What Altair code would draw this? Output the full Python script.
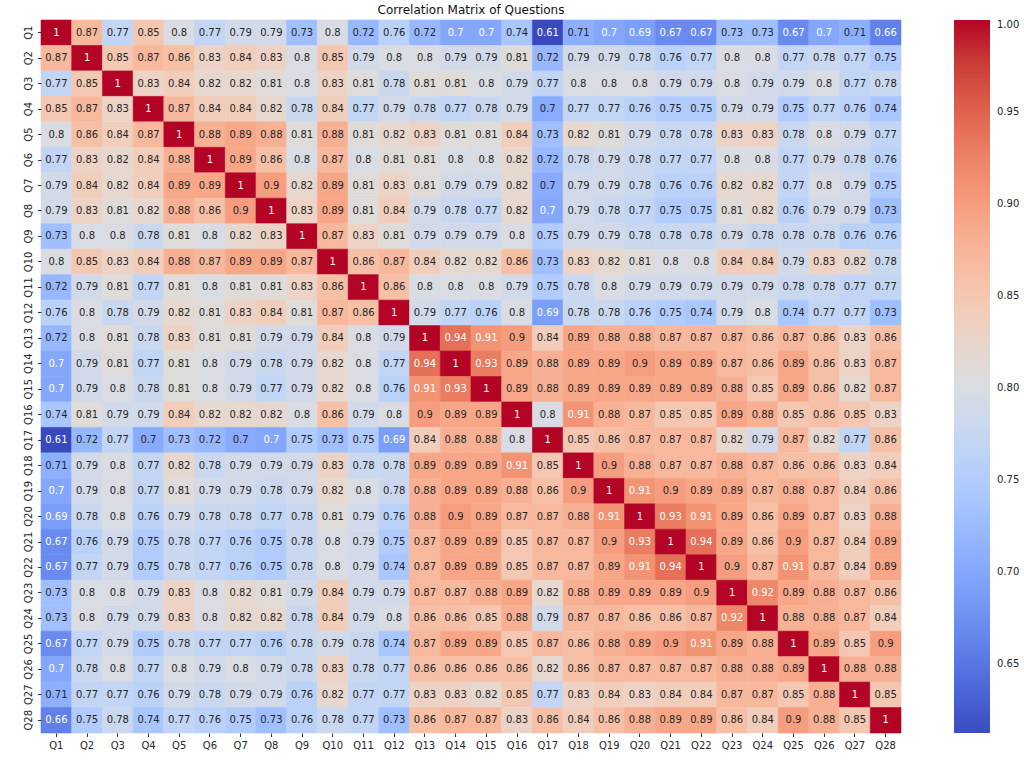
import altair as alt
import numpy as np
import pandas as pd

labels = [f"Q{i}" for i in range(1, 29)]

r01 = [1, .87, .77, .85, .8, .77, .79, .79, .73, .8, .72, .76, .72, .7, .7, .74, .61, .71, .7, .69, .67, .67, .73, .73, .67, .7, .71, .66]
r02 = [.87, 1, .85, .87, .86, .83, .84, .83, .8, .85, .79, .8, .8, .79, .79, .81, .72, .79, .79, .78, .76, .77, .8, .8, .77, .78, .77, .75]
r03 = [.77, .85, 1, .83, .84, .82, .82, .81, .8, .83, .81, .78, .81, .81, .8, .79, .77, .8, .8, .8, .79, .79, .8, .79, .79, .8, .77, .78]
r04 = [.85, .87, .83, 1, .87, .84, .84, .82, .78, .84, .77, .79, .78, .77, .78, .79, .704, .77, .77, .76, .75, .75, .79, .79, .75, .77, .76, .74]
r05 = [.8, .86, .84, .87, 1, .88, .89, .88, .81, .88, .81, .82, .83, .81, .81, .84, .73, .82, .81, .79, .78, .78, .83, .83, .78, .8, .79, .77]
r06 = [.77, .83, .82, .84, .88, 1, .89, .86, .8, .87, .8, .81, .81, .8, .8, .82, .72, .78, .79, .78, .77, .77, .8, .8, .77, .79, .78, .76]
r07 = [.79, .84, .82, .84, .89, .89, 1, .9, .82, .89, .81, .83, .81, .79, .79, .82, .704, .79, .79, .78, .76, .76, .82, .82, .77, .8, .79, .75]
r08 = [.79, .83, .81, .82, .88, .86, .9, 1, .83, .89, .81, .84, .79, .78, .77, .82, .7, .79, .78, .77, .75, .75, .81, .82, .76, .79, .79, .73]
r09 = [.73, .8, .8, .78, .81, .8, .82, .83, 1, .87, .83, .81, .79, .79, .79, .8, .75, .79, .79, .78, .78, .78, .79, .78, .78, .78, .76, .76]
r10 = [.8, .85, .83, .84, .88, .87, .89, .89, .87, 1, .86, .87, .84, .82, .82, .86, .73, .83, .82, .81, .8, .8, .84, .84, .79, .83, .82, .78]
r11 = [.72, .79, .81, .77, .81, .8, .81, .81, .83, .86, 1, .86, .8, .8, .8, .79, .75, .78, .8, .79, .79, .79, .79, .79, .78, .78, .77, .77]
r12 = [.76, .8, .78, .79, .82, .81, .83, .84, .81, .87, .86, 1, .79, .77, .76, .8, .69, .78, .78, .76, .75, .74, .79, .8, .74, .77, .77, .73]
r13 = [.72, .8, .81, .78, .83, .81, .81, .79, .79, .84, .8, .79, 1, .94, .91, .9, .84, .89, .88, .88, .87, .87, .87, .86, .87, .86, .83, .86]
r14 = [.7, .79, .81, .77, .81, .8, .79, .78, .79, .82, .8, .77, .94, 1, .93, .89, .88, .89, .89, .9, .89, .89, .87, .86, .89, .86, .83, .87]
r15 = [.7, .79, .8, .78, .81, .8, .79, .77, .79, .82, .8, .76, .91, .93, 1, .89, .88, .89, .89, .89, .89, .89, .88, .85, .89, .86, .82, .87]
r16 = [.74, .81, .79, .79, .84, .82, .82, .82, .8, .86, .79, .8, .9, .89, .89, 1, .8, .91, .88, .87, .85, .85, .89, .88, .85, .86, .85, .83]
r17 = [.61, .72, .77, .704, .73, .72, .704, .7, .75, .73, .75, .69, .84, .88, .88, .8, 1, .85, .86, .87, .87, .87, .82, .79, .87, .82, .77, .86]
r18 = [.71, .79, .8, .77, .82, .78, .79, .79, .79, .83, .78, .78, .89, .89, .89, .91, .85, 1, .9, .88, .87, .87, .88, .87, .86, .86, .83, .84]
r19 = [.7, .79, .8, .77, .81, .79, .79, .78, .79, .82, .8, .78, .88, .89, .89, .88, .86, .9, 1, .91, .9, .89, .89, .87, .88, .87, .84, .86]
r20 = [.69, .78, .8, .76, .79, .78, .78, .77, .78, .81, .79, .76, .88, .9, .89, .87, .87, .88, .91, 1, .93, .91, .89, .86, .89, .87, .83, .88]
r21 = [.67, .76, .79, .75, .78, .77, .76, .75, .78, .8, .79, .75, .87, .89, .89, .85, .87, .87, .9, .93, 1, .94, .89, .86, .9, .87, .84, .89]
r22 = [.67, .77, .79, .75, .78, .77, .76, .75, .78, .8, .79, .74, .87, .89, .89, .85, .87, .87, .89, .91, .94, 1, .9, .87, .91, .87, .84, .89]
r23 = [.73, .8, .8, .79, .83, .8, .82, .81, .79, .84, .79, .79, .87, .87, .88, .89, .82, .88, .89, .89, .89, .9, 1, .92, .89, .88, .87, .86]
r24 = [.73, .8, .79, .79, .83, .8, .82, .82, .78, .84, .79, .8, .86, .86, .85, .88, .79, .87, .87, .86, .86, .87, .92, 1, .88, .88, .87, .84]
r25 = [.67, .77, .79, .75, .78, .77, .77, .76, .78, .79, .78, .74, .87, .89, .89, .85, .87, .86, .88, .89, .9, .91, .89, .88, 1, .89, .85, .9]
r26 = [.7, .78, .8, .77, .8, .79, .8, .79, .78, .83, .78, .77, .86, .86, .86, .86, .82, .86, .87, .87, .87, .87, .88, .88, .89, 1, .88, .88]
r27 = [.71, .77, .77, .76, .79, .78, .79, .79, .76, .82, .77, .77, .83, .83, .82, .85, .77, .83, .84, .83, .84, .84, .87, .87, .85, .88, 1, .85]
r28 = [.66, .75, .78, .74, .77, .76, .75, .73, .76, .78, .77, .73, .86, .87, .87, .83, .86, .84, .86, .88, .89, .89, .86, .84, .9, .88, .85, 1]

rows = [r01, r02, r03, r04, r05, r06, r07, r08, r09, r10, r11, r12, r13, r14,
        r15, r16, r17, r18, r19, r20, r21, r22, r23, r24, r25, r26, r27, r28]

legend_ticks = [0.65, 0.70, 0.75, 0.80, 0.85, 0.90, 0.95, 1.00]

# coolwarm (Moreland) colour stops
coolwarm = [
    (59, 76, 192), (68, 90, 204), (77, 104, 215), (87, 117, 225), (98, 130, 234),
    (108, 142, 241), (119, 154, 247), (130, 165, 251), (141, 176, 254), (152, 185, 255),
    (163, 194, 255), (174, 201, 253), (184, 208, 249), (194, 213, 244), (204, 217, 238),
    (213, 219, 230), (221, 221, 221), (229, 216, 209), (236, 211, 197), (241, 204, 184),
    (245, 196, 172), (247, 187, 160), (247, 177, 148), (247, 166, 135), (244, 154, 123),
    (241, 141, 111), (236, 127, 99), (229, 112, 88), (222, 96, 77), (213, 80, 66),
    (203, 62, 56), (192, 40, 47), (180, 4, 38)]
crange = ["#%02x%02x%02x" % c for c in coolwarm]
vmin, vmax = 0.6127, 1.0
cdomain = list(np.linspace(vmin, vmax, len(crange)))

recs = []
for i, rl in enumerate(labels):
    for j, cl in enumerate(labels):
        recs.append({"row": rl, "col": cl, "v": rows[i][j]})
df = pd.DataFrame(recs)

FONT = "DejaVu Sans"

x_enc = alt.X("col:O", sort=labels, title=None,
              scale=alt.Scale(paddingInner=0, paddingOuter=0),
              axis=alt.Axis(labelAngle=0, domain=False, tickSize=3.5, tickColor="#333333",
                            labelFont=FONT, labelFontSize=10, labelColor="#262626",
                            labelPadding=4))
y_enc = alt.Y("row:O", sort=labels, title=None,
              scale=alt.Scale(paddingInner=0, paddingOuter=0),
              axis=alt.Axis(labelAngle=270, domain=False, tickSize=3.5, tickColor="#333333",
                            labelFont=FONT, labelFontSize=10, labelColor="#262626",
                            labelPadding=4, labelAlign="center", labelBaseline="bottom"))

cscale = alt.Scale(domain=cdomain, range=crange, interpolate="rgb")

base = alt.Chart(df)

rects = base.mark_rect(strokeWidth=0.6, stroke=alt.expr("scale('color', datum.v)")).encode(
    x=x_enc,
    y=y_enc,
    color=alt.Color("v:Q", title=None, scale=cscale,
                    legend=alt.Legend(orient="none", legendX=913, legendY=0,
                                      direction="vertical", gradientLength=713,
                                      gradientThickness=36, gradientStrokeWidth=0,
                                      values=legend_ticks, format=".2f",
                                      labelFont=FONT, labelFontSize=10,
                                      labelColor="#262626", labelOverlap=False,
                                      labelOffset=7)),
)

texts = base.mark_text(font=FONT, fontSize=10).encode(
    x=alt.X("col:O", sort=labels),
    y=alt.Y("row:O", sort=labels),
    text=alt.Text("v:Q", format=".2~f"),
    color=alt.condition("datum.v >= 0.905 || datum.v <= 0.7",
                        alt.value("white"), alt.value("#262626")),
)

chart = alt.layer(rects, texts).properties(
    width=860, height=713,
    title=alt.TitleParams("Correlation Matrix of Questions", font=FONT, fontSize=12,
                          fontWeight="normal", color="#111111", offset=3),
    autosize=alt.AutoSizeParams(type="none"),
    padding={"left": 41, "top": 20, "right": 123, "bottom": 30},
).configure_view(stroke=None)

chart.save("out.html", embed_options={"renderer": "svg", "actions": False})
